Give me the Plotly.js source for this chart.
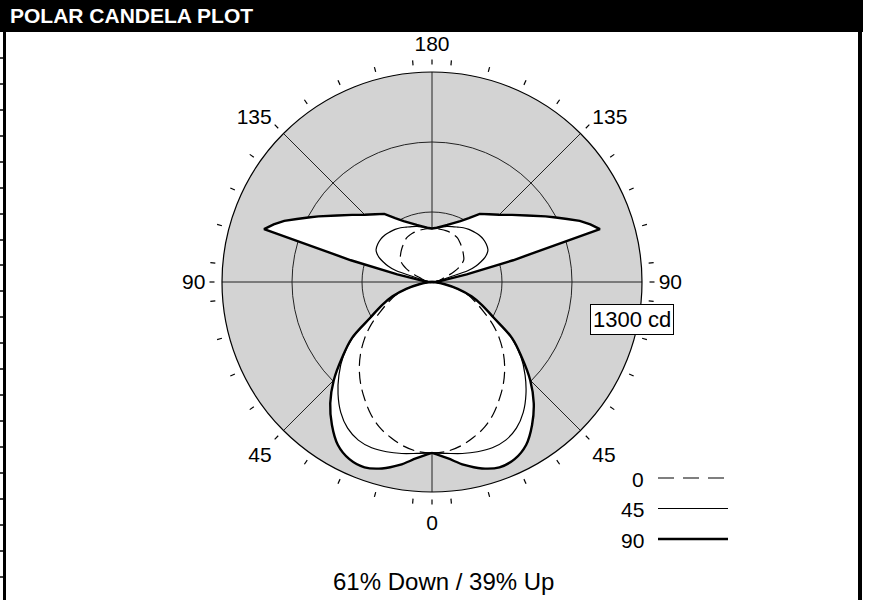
<!DOCTYPE html>
<html>
<head>
<meta charset="utf-8">
<script src="https://cdn.plot.ly/plotly-3.0.1.min.js"></script>
<style>
html,body{margin:0;padding:0;background:#fff;}
#chart{width:869px;height:600px;}
</style>
</head>
<body>
<div id="chart"></div>
<script>
// ---- data (vertical angle in degrees, candela) ----
const angles = [0,5,10,15,20,25,30,35,40,45,50,55,60,65,70,75,80,85,90,
  92.5,95,97.5,100,102.5,105,107.5,110,112.5,115,117.5,120,125,130,135,140,145,150,155,160,165,170,175,180];
const cd0  = [1058,1052,1030,995,955,900,835,770,700,625,545,460,370,300,240,160,80,20,0,
  5,12,22,35,45,55,68,85,115,150,180,205,240,255,270,285,300,315,322,327,329,330,331,331];
const cd45 = [1058,1065,1078,1088,1092,1080,1045,985,905,815,718,600,437,343,257,163,79,20,0,
  8,18,32,50,70,95,235,290,328,362,385,400,410,414,412,405,398,388,375,365,356,345,336,331];
const cd90 = [1058,1095,1150,1195,1221,1210,1165,1080,980,860,725,605,440,345,260,165,80,20,0,
  10,25,50,100,220,520,1090,1043,990,923,864,812,717,646,589,547,515,456,416,388,366,350,337,331];
const seriesNames = ['0','45','90'];
const ringValues = [433.33, 866.67, 1300];
const maxCd = 1300;
const spokeAngles = [0,45,90,135,180,225,270,315];
const tickAngles = [0,5,15,25,35,45,55,65,75,85,90,95,105,115,125,135,145,155,165,175,180,
  185,195,205,215,225,235,245,255,265,270,275,285,295,305,315,325,335,345,355];
const tickLabelMap = {0:'0',45:'45',90:'90',135:'135',180:'180',225:'135',270:'90',315:'45'};
const ringLabel = '1300 cd';
const chartTitle = 'POLAR CANDELA PLOT';
const footnote = '61% Down / 39% Up';

const FONT = 'Liberation Sans, Arial, Helvetica, sans-serif';
const W = 869, H = 600;
const X = px => px / W;
const Y = py => 1 - py / H;

// split each half-curve into the downward lobe (0..90) and upward part (90..180),
// and mirror it onto the other side of the plot (theta -> 360 - theta)
const iH = angles.indexOf(90);
function parts(vals){
  const aLo = angles.slice(0, iH + 1), rLo = vals.slice(0, iH + 1);
  const aUp = angles.slice(iH), rUp = vals.slice(iH);
  return {
    lowRight: {theta: aLo, r: rLo},
    lowLeft:  {theta: aLo.map(a => 360 - a), r: rLo},
    up: {theta: aUp.concat(aUp.slice(0, -1).reverse().map(a => 360 - a)),
         r: rUp.concat(rUp.slice(0, -1).reverse())}
  };
}
const p0 = parts(cd0), p45 = parts(cd45), p90 = parts(cd90);

const traces = [];
function add(part, opts){
  traces.push(Object.assign({type:'scatterpolar', subplot:'polar', r: part.r, theta: part.theta,
    mode:'lines', showlegend:false, hoverinfo:'skip'}, opts));
}
// white fill of the outer (90) envelope
const fillOpts = s => ({fill:'toself', fillcolor:'#ffffff', line:{width:0, color:'rgba(0,0,0,0)', shape:s}});
add(p90.lowRight, fillOpts('spline'));
add(p90.lowLeft, fillOpts('spline'));
add(p90.up, fillOpts('linear'));
// curves
const styles = [
  {p: p0,  name: seriesNames[0], line:{color:'#000', width:1.2, dash:'12px,6px'}, upShape:'spline'},
  {p: p45, name: seriesNames[1], line:{color:'#000', width:1.2}, upShape:'spline'},
  {p: p90, name: seriesNames[2], line:{color:'#000', width:2.4}, upShape:'linear'}
];
styles.forEach(s => {
  add(s.p.lowRight, {name:s.name, line:Object.assign({shape:'spline'}, s.line)});
  add(s.p.lowLeft,  {name:s.name, line:Object.assign({shape:'spline'}, s.line)});
  add(s.p.up,       {name:s.name, line:Object.assign({shape:s.upShape}, s.line)});
});
// carrier for the tick ring subplot
traces.push({type:'scatterpolar', subplot:'polar2', r: [], theta: [], mode:'lines', showlegend:false, hoverinfo:'skip'});

const cx = 432, cy = 282, R = 210, R2 = 217;

// decorations
const shapes = [
  {type:'rect', xref:'paper', yref:'paper', x0:0, x1:X(863), y0:Y(32), y1:1, fillcolor:'#000', line:{width:0}},
  {type:'rect', xref:'paper', yref:'paper', x0:X(3), x1:X(6), y0:0, y1:Y(32), fillcolor:'#000', line:{width:0}},
  {type:'rect', xref:'paper', yref:'paper', x0:X(858), x1:X(862), y0:0, y1:Y(32), fillcolor:'#000', line:{width:0}}
];
const rowLines = [58,84,110,136,162,188,214,240,265,291,317,343,369,395,421,447,473,499,525,551,577];
rowLines.forEach(py => shapes.push({type:'line', xref:'paper', yref:'paper', x0:0, x1:X(4), y0:Y(py), y1:Y(py), line:{color:'#000', width:1.5}}));

// manual legend (label left of line sample)
const legendRows = [
  {name: seriesNames[0], y: 478, dash:'16px,9px', width:1.2},
  {name: seriesNames[1], y: 508.5, dash:'solid', width:1.2},
  {name: seriesNames[2], y: 539, dash:'solid', width:2.4}
];
const annotations = [];
legendRows.forEach(r => {
  shapes.push({type:'line', xref:'paper', yref:'paper', x0:X(658), x1:X(728), y0:Y(r.y), y1:Y(r.y), line:{color:'#000', width:r.width, dash:r.dash}});
  annotations.push({xref:'paper', yref:'paper', x:X(646), y:Y(r.y+1), xanchor:'right', yanchor:'middle', showarrow:false, text:r.name, font:{family:FONT, size:21, color:'#000'}});
});
annotations.push({xref:'paper', yref:'paper', x:X(632), y:Y(319), xanchor:'center', yanchor:'middle', showarrow:false,
  text: ringLabel, font:{family:FONT, size:22, color:'#000'}, bgcolor:'#fff', bordercolor:'#000', borderwidth:1, borderpad:2});
annotations.push({xref:'paper', yref:'paper', x:X(443), y:Y(581), xanchor:'center', yanchor:'middle', showarrow:false,
  text: footnote, font:{family:FONT, size:24, color:'#000'}});

const layout = {
  width: W, height: H,
  margin:{l:0, r:0, t:0, b:0},
  paper_bgcolor:'#fff',
  font:{family:FONT, color:'#000'},
  showlegend:false,
  title:{text: '<b>' + chartTitle + '</b>', x: X(10), xanchor:'left', xref:'container', y: Y(16), yanchor:'middle', yref:'container',
    font:{family:FONT, size:21, color:'#fff'}},
  polar:{
    domain:{x:[X(cx - R), X(cx + R)], y:[Y(cy + R), Y(cy - R)]},
    bgcolor:'#d3d3d3',
    radialaxis:{range:[0, maxCd], tickvals: ringValues, showticklabels:false, ticks:'', showline:false,
      gridcolor:'#222', gridwidth:1},
    angularaxis:{rotation:270, direction:'counterclockwise', tickvals: spokeAngles, showticklabels:false, ticks:'',
      showline:true, linecolor:'#000', linewidth:1.2, gridcolor:'#222', gridwidth:1}
  },
  polar2:{
    domain:{x:[X(cx - R2), X(cx + R2)], y:[Y(cy + R2), Y(cy - R2)]},
    bgcolor:'rgba(0,0,0,0)',
    radialaxis:{visible:false, range:[0,1]},
    angularaxis:{rotation:270, direction:'counterclockwise', tickmode:'array', tickvals: tickAngles,
      ticktext: tickAngles.map(a => tickLabelMap[a] || ''), ticks:'outside', ticklen:5, tickwidth:1.2, tickcolor:'#000',
      showline:false, showgrid:false, tickfont:{family:FONT, size:21, color:'#000'}}
  },
  shapes: shapes,
  annotations: annotations
};

Plotly.newPlot('chart', traces, layout, {displayModeBar:false, staticPlot:true});
</script>
</body>
</html>
